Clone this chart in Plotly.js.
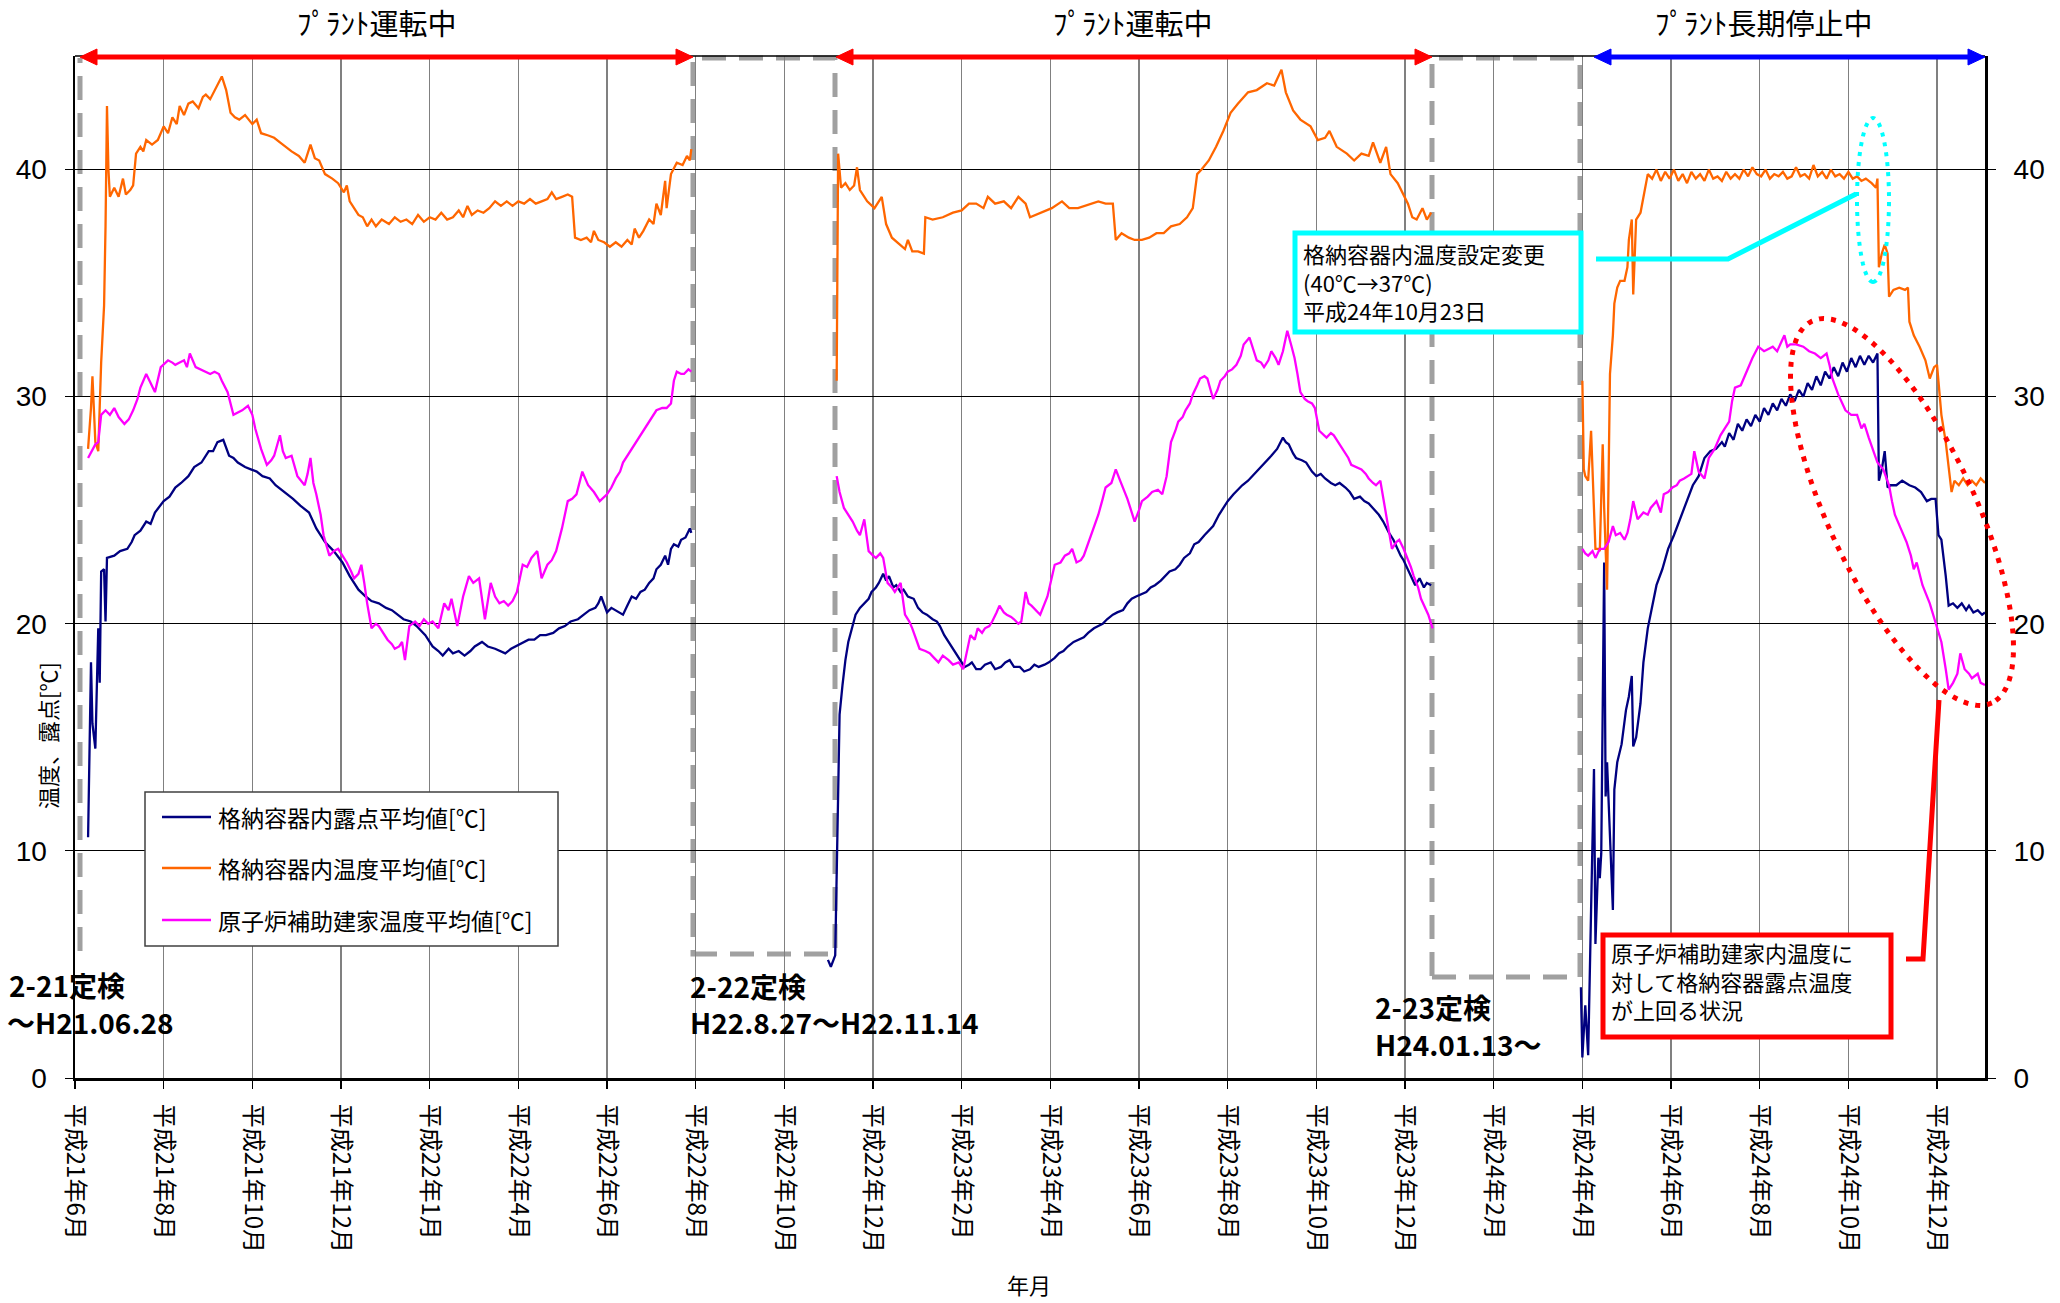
<!DOCTYPE html>
<html>
<head>
<meta charset="utf-8">
<script src="https://cdn.plot.ly/plotly-3.0.1.min.js"></script>
<style>html,body{margin:0;padding:0;background:#fff;}#chart{width:2060px;height:1303px;}</style>
</head>
<body>
<div id="chart"></div>
<script>
// ---------- data ----------
const seriesNames = ['格納容器内露点平均値[℃]', '格納容器内温度平均値[℃]', '原子炉補助建家温度平均値[℃]'];
const seriesColors = ['#000080', '#FF6600', '#FF00FF'];

const tickDates = ['2009-06-01','2009-08-01','2009-10-01','2009-12-01','2010-01-31','2010-04-02','2010-06-02','2010-08-02','2010-10-02','2010-12-02','2011-02-01','2011-04-03','2011-06-03','2011-08-03','2011-10-03','2011-12-03','2012-02-02','2012-04-03','2012-06-03','2012-08-03','2012-10-03','2012-12-03'];
const tickLabels = ['平成21年6月','平成21年8月','平成21年10月','平成21年12月','平成22年1月','平成22年4月','平成22年6月','平成22年8月','平成22年10月','平成22年12月','平成23年2月','平成23年4月','平成23年6月','平成23年8月','平成23年10月','平成23年12月','平成24年2月','平成24年4月','平成24年6月','平成24年8月','平成24年10月','平成24年12月'];
const xRange = ['2009-06-01', '2013-01-05'];
const yTicks = [0, 10, 20, 30, 40];
const gapDates = ['2010-09-20', '2012-02-20'];

// 格納容器内露点平均値
const dew1 = [['2009-06-10',10.6],['2009-06-12',18.3],['2009-06-13',15.6],['2009-06-15',14.5],['2009-06-17',19.8],['2009-06-18',17.4],['2009-06-19',22.3],['2009-06-21',22.4],['2009-06-22',20.1],['2009-06-23',22.9],['2009-06-28',23.0],['2009-07-02',23.2],['2009-07-07',23.3],['2009-07-10',23.6],['2009-07-12',23.9],['2009-07-16',24.1],['2009-07-20',24.5],['2009-07-23',24.4],['2009-07-26',24.9],['2009-08-01',25.4],['2009-08-05',25.6],['2009-08-09',26.0],['2009-08-13',26.2],['2009-08-18',26.5],['2009-08-22',26.9],['2009-08-27',27.1],['2009-09-01',27.6],['2009-09-04',27.6],['2009-09-07',28.0],['2009-09-11',28.1],['2009-09-15',27.4],['2009-09-18',27.3],['2009-09-21',27.1],['2009-09-26',26.9],['2009-09-30',26.8],['2009-10-04',26.7],['2009-10-08',26.5],['2009-10-13',26.4],['2009-10-17',26.1],['2009-10-21',25.9],['2009-10-25',25.7],['2009-10-29',25.5],['2009-11-03',25.2],['2009-11-09',24.9],['2009-11-14',24.2],['2009-11-20',23.6],['2009-11-26',23.2],['2009-12-02',22.7],['2009-12-07',22.1],['2009-12-13',21.5],['2009-12-18',21.2],['2009-12-22',21.0],['2009-12-27',20.9],['2010-01-01',20.7],['2010-01-05',20.6],['2010-01-09',20.4],['2010-01-13',20.2],['2010-01-18',20.1],['2010-01-22',19.9],['2010-01-28',19.5],['2010-02-02',19.0],['2010-02-06',18.8],['2010-02-09',18.6],['2010-02-13',18.9],['2010-02-16',18.7],['2010-02-20',18.8],['2010-02-24',18.6],['2010-02-28',18.8],['2010-03-03',19.0],['2010-03-08',19.2],['2010-03-12',19.0],['2010-03-17',18.9],['2010-03-21',18.8],['2010-03-24',18.7],['2010-03-28',18.9],['2010-03-31',19.0],['2010-04-05',19.2],['2010-04-09',19.3],['2010-04-13',19.3],['2010-04-17',19.5],['2010-04-21',19.5],['2010-04-26',19.6],['2010-04-30',19.8],['2010-05-04',19.9],['2010-05-08',20.1],['2010-05-13',20.2],['2010-05-17',20.4],['2010-05-21',20.6],['2010-05-25',20.7],['2010-05-27',20.9],['2010-05-29',21.2],['2010-06-02',20.5],['2010-06-05',20.7],['2010-06-08',20.6],['2010-06-11',20.5],['2010-06-13',20.4],['2010-06-16',20.8],['2010-06-19',21.2],['2010-06-22',21.1],['2010-06-25',21.4],['2010-06-28',21.5],['2010-07-01',21.8],['2010-07-04',22.0],['2010-07-06',22.4],['2010-07-09',22.6],['2010-07-12',23.0],['2010-07-14',22.6],['2010-07-16',23.3],['2010-07-18',23.5],['2010-07-21',23.4],['2010-07-23',23.7],['2010-07-26',23.8],['2010-07-29',24.2],['2010-07-30',24.0]];
const dew2 = [['2010-11-01',5.2],['2010-11-03',4.9],['2010-11-06',5.4],['2010-11-07',9.0],['2010-11-08',14.0],['2010-11-09',16.0],['2010-11-11',17.3],['2010-11-13',18.4],['2010-11-15',19.2],['2010-11-18',19.9],['2010-11-20',20.4],['2010-11-23',20.7],['2010-11-26',20.9],['2010-11-29',21.1],['2010-12-01',21.4],['2010-12-04',21.6],['2010-12-06',21.8],['2010-12-09',22.2],['2010-12-11',21.9],['2010-12-13',22.1],['2010-12-16',21.6],['2010-12-18',21.7],['2010-12-21',21.4],['2010-12-23',21.5],['2010-12-26',21.2],['2010-12-30',21.1],['2011-01-02',20.7],['2011-01-05',20.5],['2011-01-08',20.4],['2011-01-12',20.2],['2011-01-15',20.1],['2011-01-17',19.9],['2011-01-20',19.5],['2011-01-22',19.3],['2011-01-26',18.9],['2011-01-29',18.6],['2011-02-01',18.3],['2011-02-03',18.1],['2011-02-06',18.2],['2011-02-08',18.3],['2011-02-11',18.0],['2011-02-14',18.0],['2011-02-17',18.2],['2011-02-21',18.3],['2011-02-24',18.0],['2011-02-28',18.1],['2011-03-03',18.3],['2011-03-06',18.4],['2011-03-09',18.1],['2011-03-13',18.1],['2011-03-16',17.9],['2011-03-20',18.0],['2011-03-23',18.2],['2011-03-26',18.1],['2011-03-30',18.2],['2011-04-02',18.3],['2011-04-06',18.5],['2011-04-09',18.7],['2011-04-12',18.8],['2011-04-15',19.0],['2011-04-19',19.2],['2011-04-22',19.3],['2011-04-26',19.4],['2011-04-29',19.6],['2011-05-03',19.8],['2011-05-06',19.9],['2011-05-09',20.0],['2011-05-12',20.2],['2011-05-16',20.4],['2011-05-19',20.5],['2011-05-23',20.6],['2011-05-26',20.9],['2011-05-29',21.1],['2011-06-01',21.2],['2011-06-05',21.3],['2011-06-08',21.4],['2011-06-11',21.6],['2011-06-14',21.7],['2011-06-18',21.9],['2011-06-21',22.1],['2011-06-24',22.3],['2011-06-28',22.4],['2011-07-01',22.6],['2011-07-04',22.9],['2011-07-08',23.1],['2011-07-11',23.5],['2011-07-14',23.6],['2011-07-18',23.9],['2011-07-21',24.1],['2011-07-24',24.3],['2011-07-28',24.8],['2011-07-31',25.1],['2011-08-03',25.4],['2011-08-07',25.7],['2011-08-10',25.9],['2011-08-13',26.1],['2011-08-17',26.3],['2011-08-20',26.5],['2011-08-24',26.8],['2011-08-27',27.0],['2011-08-30',27.2],['2011-09-02',27.4],['2011-09-06',27.7],['2011-09-10',28.2],['2011-09-12',28.0],['2011-09-14',27.9],['2011-09-17',27.5],['2011-09-19',27.3],['2011-09-23',27.2],['2011-09-26',27.1],['2011-09-30',26.7],['2011-10-03',26.5],['2011-10-06',26.6],['2011-10-09',26.4],['2011-10-13',26.2],['2011-10-16',26.1],['2011-10-19',26.2],['2011-10-23',26.0],['2011-10-26',25.8],['2011-10-29',25.5],['2011-11-02',25.6],['2011-11-05',25.4],['2011-11-08',25.3],['2011-11-11',25.1],['2011-11-15',24.8],['2011-11-18',24.5],['2011-11-22',24.0],['2011-11-25',23.7],['2011-11-30',23.0],['2011-12-02',22.8],['2011-12-05',22.4],['2011-12-08',22.0],['2011-12-10',21.7],['2011-12-13',22.0],['2011-12-16',21.6],['2011-12-18',21.8],['2011-12-21',21.7]];
const dew3 = [['2012-04-02',4.0],['2012-04-03',0.9],['2012-04-05',3.2],['2012-04-07',1.0],['2012-04-09',7.4],['2012-04-10',10.9],['2012-04-11',13.6],['2012-04-12',5.9],['2012-04-14',9.7],['2012-04-15',8.8],['2012-04-16',9.9],['2012-04-18',22.7],['2012-04-19',12.4],['2012-04-20',13.9],['2012-04-22',10.6],['2012-04-24',7.4],['2012-04-25',12.7],['2012-04-27',13.9],['2012-04-30',14.7],['2012-05-03',16.2],['2012-05-05',16.8],['2012-05-07',17.7],['2012-05-08',14.6],['2012-05-10',15.0],['2012-05-13',16.5],['2012-05-15',18.3],['2012-05-18',19.8],['2012-05-21',20.8],['2012-05-24',21.7],['2012-05-28',22.4],['2012-06-01',23.3],['2012-06-05',23.9],['2012-06-09',24.6],['2012-06-14',25.4],['2012-06-18',26.1],['2012-06-22',26.5],['2012-06-26',27.3],['2012-06-30',27.6],['2012-07-04',27.7],['2012-07-08',28.0],['2012-07-10',27.8],['2012-07-13',28.4],['2012-07-16',28.1],['2012-07-19',28.8],['2012-07-22',28.5],['2012-07-25',29.0],['2012-07-28',28.7],['2012-07-31',29.2],['2012-08-03',28.9],['2012-08-06',29.5],['2012-08-09',29.2],['2012-08-12',29.7],['2012-08-15',29.4],['2012-08-18',29.9],['2012-08-21',29.6],['2012-08-24',30.1],['2012-08-27',29.8],['2012-08-30',30.3],['2012-09-02',30.0],['2012-09-05',30.6],['2012-09-08',30.3],['2012-09-11',30.9],['2012-09-14',30.5],['2012-09-17',31.1],['2012-09-20',30.8],['2012-09-23',31.3],['2012-09-26',30.9],['2012-09-29',31.5],['2012-10-02',31.1],['2012-10-05',31.7],['2012-10-08',31.3],['2012-10-11',31.8],['2012-10-14',31.4],['2012-10-17',31.8],['2012-10-20',31.5],['2012-10-23',31.9],['2012-10-24',26.3],['2012-10-26',26.8],['2012-10-28',27.6],['2012-10-30',26.0],['2012-11-01',26.1],['2012-11-05',26.1],['2012-11-09',26.3],['2012-11-14',26.1],['2012-11-18',26.0],['2012-11-22',25.8],['2012-11-26',25.4],['2012-11-29',25.5],['2012-12-02',25.5],['2012-12-04',23.9],['2012-12-06',23.7],['2012-12-09',22.1],['2012-12-11',20.8],['2012-12-14',20.9],['2012-12-17',20.7],['2012-12-20',20.9],['2012-12-23',20.6],['2012-12-25',20.8],['2012-12-28',20.5],['2012-12-31',20.6],['2013-01-03',20.4],['2013-01-05',20.5]];

// 格納容器内温度平均値
const temp1 = [['2009-06-10',27.7],['2009-06-12',29.5],['2009-06-13',30.9],['2009-06-14',29.0],['2009-06-15',28.0],['2009-06-17',27.6],['2009-06-19',31.5],['2009-06-21',34.0],['2009-06-22',37.5],['2009-06-23',42.8],['2009-06-24',40.0],['2009-06-25',38.8],['2009-06-28',39.2],['2009-07-01',38.8],['2009-07-04',39.6],['2009-07-06',38.9],['2009-07-09',39.1],['2009-07-11',39.3],['2009-07-13',40.7],['2009-07-16',41.0],['2009-07-18',40.8],['2009-07-20',41.3],['2009-07-24',41.1],['2009-07-28',41.3],['2009-08-01',41.9],['2009-08-04',41.6],['2009-08-07',42.3],['2009-08-10',42.0],['2009-08-12',42.8],['2009-08-15',42.4],['2009-08-18',42.9],['2009-08-21',43.0],['2009-08-25',42.7],['2009-08-28',43.2],['2009-08-30',43.3],['2009-09-02',43.1],['2009-09-06',43.6],['2009-09-10',44.1],['2009-09-13',43.5],['2009-09-16',42.5],['2009-09-19',42.3],['2009-09-22',42.2],['2009-09-26',42.4],['2009-10-01',42.0],['2009-10-04',42.2],['2009-10-07',41.6],['2009-10-12',41.5],['2009-10-16',41.4],['2009-10-20',41.2],['2009-10-24',41.0],['2009-10-28',40.8],['2009-11-02',40.6],['2009-11-06',40.3],['2009-11-10',41.1],['2009-11-13',40.5],['2009-11-16',40.4],['2009-11-20',39.8],['2009-11-25',39.6],['2009-11-29',39.4],['2009-12-03',39.0],['2009-12-05',39.3],['2009-12-07',38.6],['2009-12-10',38.3],['2009-12-13',38.0],['2009-12-16',37.9],['2009-12-19',37.5],['2009-12-22',37.8],['2009-12-25',37.5],['2009-12-29',37.8],['2010-01-03',37.6],['2010-01-07',37.9],['2010-01-11',37.7],['2010-01-15',37.8],['2010-01-19',37.6],['2010-01-23',38.0],['2010-01-27',37.7],['2010-01-31',37.9],['2010-02-04',37.8],['2010-02-08',38.1],['2010-02-12',37.8],['2010-02-16',37.9],['2010-02-20',38.2],['2010-02-23',37.9],['2010-02-26',38.4],['2010-03-01',38.0],['2010-03-05',38.2],['2010-03-09',38.1],['2010-03-13',38.3],['2010-03-17',38.6],['2010-03-21',38.4],['2010-03-25',38.6],['2010-03-29',38.4],['2010-04-02',38.6],['2010-04-06',38.5],['2010-04-10',38.7],['2010-04-14',38.5],['2010-04-18',38.6],['2010-04-22',38.7],['2010-04-25',39.0],['2010-04-28',38.7],['2010-05-02',38.8],['2010-05-06',38.9],['2010-05-09',38.8],['2010-05-11',37.0],['2010-05-15',36.9],['2010-05-19',37.0],['2010-05-22',36.8],['2010-05-24',37.3],['2010-05-27',36.9],['2010-05-31',36.8],['2010-06-04',36.6],['2010-06-08',36.8],['2010-06-12',36.6],['2010-06-16',36.9],['2010-06-19',36.7],['2010-06-21',37.4],['2010-06-24',37.0],['2010-06-27',37.3],['2010-07-01',37.8],['2010-07-04',37.6],['2010-07-06',38.5],['2010-07-09',38.0],['2010-07-12',39.5],['2010-07-13',38.3],['2010-07-16',39.8],['2010-07-20',40.3],['2010-07-24',40.2],['2010-07-27',40.6],['2010-07-29',40.4],['2010-07-30',40.9]];
const temp2 = [['2010-11-07',30.7],['2010-11-08',40.7],['2010-11-10',39.2],['2010-11-13',39.4],['2010-11-16',39.1],['2010-11-19',39.3],['2010-11-21',40.1],['2010-11-23',39.1],['2010-11-28',38.6],['2010-12-03',38.3],['2010-12-08',38.8],['2010-12-11',37.6],['2010-12-15',37.0],['2010-12-20',36.7],['2010-12-24',36.5],['2010-12-26',36.9],['2010-12-29',36.4],['2011-01-02',36.4],['2011-01-06',36.3],['2011-01-07',37.9],['2011-01-12',37.8],['2011-01-19',37.9],['2011-01-26',38.1],['2011-02-01',38.2],['2011-02-06',38.5],['2011-02-11',38.5],['2011-02-16',38.3],['2011-02-19',38.8],['2011-02-24',38.5],['2011-03-02',38.6],['2011-03-07',38.3],['2011-03-12',38.8],['2011-03-17',38.5],['2011-03-20',37.9],['2011-03-27',38.1],['2011-04-04',38.3],['2011-04-11',38.6],['2011-04-16',38.3],['2011-04-22',38.3],['2011-05-01',38.5],['2011-05-06',38.6],['2011-05-11',38.5],['2011-05-16',38.5],['2011-05-18',36.9],['2011-05-22',37.2],['2011-05-27',37.0],['2011-05-31',36.9],['2011-06-05',36.9],['2011-06-10',37.0],['2011-06-15',37.2],['2011-06-20',37.2],['2011-06-25',37.5],['2011-07-01',37.6],['2011-07-06',37.9],['2011-07-10',38.3],['2011-07-13',39.8],['2011-07-16',40.0],['2011-07-21',40.4],['2011-07-26',41.0],['2011-07-31',41.7],['2011-08-05',42.5],['2011-08-10',42.9],['2011-08-17',43.4],['2011-08-23',43.5],['2011-08-30',43.8],['2011-09-04',43.7],['2011-09-09',44.4],['2011-09-12',43.4],['2011-09-17',42.6],['2011-09-22',42.2],['2011-09-29',41.9],['2011-10-04',41.3],['2011-10-09',41.4],['2011-10-12',41.7],['2011-10-17',41.0],['2011-10-24',40.7],['2011-10-29',40.4],['2011-11-03',40.7],['2011-11-08',40.6],['2011-11-11',41.2],['2011-11-16',40.3],['2011-11-20',41.0],['2011-11-23',39.8],['2011-11-28',39.4],['2011-12-02',38.9],['2011-12-05',38.5],['2011-12-08',37.9],['2011-12-11',37.8],['2011-12-15',38.3],['2011-12-18',37.8],['2011-12-21',38.1]];
const temp3 = [['2012-04-03',30.7],['2012-04-04',26.8],['2012-04-05',26.5],['2012-04-07',26.3],['2012-04-09',28.5],['2012-04-10',26.8],['2012-04-12',23.3],['2012-04-14',23.3],['2012-04-15',23.2],['2012-04-17',27.9],['2012-04-18',25.1],['2012-04-20',21.5],['2012-04-22',31.0],['2012-04-24',32.7],['2012-04-25',34.1],['2012-04-27',34.8],['2012-04-29',35.1],['2012-05-02',35.1],['2012-05-04',35.7],['2012-05-05',36.9],['2012-05-07',37.8],['2012-05-08',34.5],['2012-05-10',37.8],['2012-05-13',38.1],['2012-05-15',38.8],['2012-05-18',39.8],['2012-05-21',39.6],['2012-05-24',40.0],['2012-05-27',39.5],['2012-05-30',39.9],['2012-06-02',39.6],['2012-06-05',40.0],['2012-06-08',39.5],['2012-06-11',39.8],['2012-06-14',39.4],['2012-06-17',39.9],['2012-06-20',39.6],['2012-06-23',39.8],['2012-06-26',39.5],['2012-06-29',40.0],['2012-07-02',39.6],['2012-07-05',39.7],['2012-07-08',39.5],['2012-07-11',39.9],['2012-07-14',39.6],['2012-07-17',39.8],['2012-07-20',39.6],['2012-07-23',40.0],['2012-07-26',39.7],['2012-07-29',40.1],['2012-08-01',39.8],['2012-08-04',39.7],['2012-08-07',40.0],['2012-08-10',39.6],['2012-08-13',39.8],['2012-08-16',39.7],['2012-08-19',39.9],['2012-08-22',39.6],['2012-08-25',39.7],['2012-08-28',40.1],['2012-08-31',39.7],['2012-09-03',39.8],['2012-09-06',39.6],['2012-09-09',40.2],['2012-09-12',39.7],['2012-09-15',39.9],['2012-09-18',39.6],['2012-09-21',40.0],['2012-09-24',39.7],['2012-09-27',39.8],['2012-09-30',39.6],['2012-10-03',39.9],['2012-10-06',39.6],['2012-10-09',39.7],['2012-10-12',39.5],['2012-10-15',39.6],['2012-10-19',39.4],['2012-10-22',39.2],['2012-10-23',39.6],['2012-10-24',35.7],['2012-10-26',36.3],['2012-10-28',36.7],['2012-10-30',36.3],['2012-10-31',34.4],['2012-11-03',34.7],['2012-11-07',34.8],['2012-11-11',34.7],['2012-11-13',34.8],['2012-11-14',33.3],['2012-11-17',32.7],['2012-11-21',32.2],['2012-11-25',31.6],['2012-11-28',30.8],['2012-12-01',31.3],['2012-12-03',31.4],['2012-12-05',30.1],['2012-12-06',29.2],['2012-12-09',28.0],['2012-12-11',26.8],['2012-12-13',25.8],['2012-12-15',26.3],['2012-12-18',26.1],['2012-12-21',26.4],['2012-12-24',26.1],['2012-12-27',26.3],['2012-12-30',26.1],['2013-01-02',26.4],['2013-01-05',26.2]];

// 原子炉補助建家温度平均値
const aux1 = [['2009-06-10',27.3],['2009-06-13',27.7],['2009-06-15',27.9],['2009-06-17',28.0],['2009-06-19',29.2],['2009-06-22',29.4],['2009-06-25',29.2],['2009-06-28',29.5],['2009-07-01',29.1],['2009-07-05',28.8],['2009-07-08',29.0],['2009-07-11',29.4],['2009-07-14',29.9],['2009-07-16',30.4],['2009-07-20',31.0],['2009-07-23',30.6],['2009-07-26',30.2],['2009-07-30',31.3],['2009-08-04',31.6],['2009-08-07',31.5],['2009-08-09',31.4],['2009-08-12',31.5],['2009-08-15',31.6],['2009-08-17',31.3],['2009-08-19',31.9],['2009-08-23',31.3],['2009-08-26',31.2],['2009-08-29',31.1],['2009-09-02',31.0],['2009-09-05',31.1],['2009-09-08',31.0],['2009-09-10',30.7],['2009-09-14',30.2],['2009-09-18',29.2],['2009-09-21',29.3],['2009-09-24',29.4],['2009-09-28',29.6],['2009-10-01',29.2],['2009-10-03',28.6],['2009-10-07',27.7],['2009-10-11',27.0],['2009-10-14',27.2],['2009-10-16',27.4],['2009-10-20',28.3],['2009-10-22',27.6],['2009-10-24',27.3],['2009-10-28',27.4],['2009-11-01',26.5],['2009-11-06',26.1],['2009-11-08',26.6],['2009-11-10',27.3],['2009-11-12',26.2],['2009-11-14',25.7],['2009-11-17',24.8],['2009-11-19',23.9],['2009-11-23',23.0],['2009-11-26',23.2],['2009-11-29',23.3],['2009-12-02',23.0],['2009-12-05',22.7],['2009-12-08',22.3],['2009-12-10',22.0],['2009-12-13',22.2],['2009-12-15',22.6],['2009-12-17',21.8],['2009-12-19',20.9],['2009-12-22',19.8],['2009-12-25',20.0],['2009-12-27',19.9],['2009-12-30',19.6],['2010-01-02',19.3],['2010-01-05',19.1],['2010-01-07',18.9],['2010-01-10',19.0],['2010-01-12',19.2],['2010-01-14',18.4],['2010-01-17',19.9],['2010-01-21',20.1],['2010-01-24',19.9],['2010-01-27',20.2],['2010-01-30',20.0],['2010-02-02',20.1],['2010-02-06',19.8],['2010-02-10',20.9],['2010-02-13',20.6],['2010-02-15',21.1],['2010-02-19',19.9],['2010-02-23',21.2],['2010-02-27',22.1],['2010-03-02',21.8],['2010-03-06',22.0],['2010-03-10',20.2],['2010-03-14',21.8],['2010-03-17',21.2],['2010-03-20',20.9],['2010-03-23',21.0],['2010-03-26',20.8],['2010-03-29',21.0],['2010-04-01',21.4],['2010-04-05',22.6],['2010-04-08',22.5],['2010-04-11',22.9],['2010-04-15',23.2],['2010-04-18',22.0],['2010-04-22',22.6],['2010-04-25',22.8],['2010-04-28',23.2],['2010-05-02',24.2],['2010-05-06',25.4],['2010-05-09',25.5],['2010-05-12',25.7],['2010-05-16',26.7],['2010-05-20',26.1],['2010-05-24',25.8],['2010-05-28',25.4],['2010-06-02',25.7],['2010-06-05',26.0],['2010-06-08',26.4],['2010-06-11',26.7],['2010-06-13',27.1],['2010-06-16',27.4],['2010-06-19',27.7],['2010-06-22',28.0],['2010-06-25',28.3],['2010-06-28',28.6],['2010-07-01',28.9],['2010-07-04',29.2],['2010-07-06',29.4],['2010-07-10',29.5],['2010-07-13',29.5],['2010-07-16',29.7],['2010-07-18',30.7],['2010-07-20',31.1],['2010-07-23',31.0],['2010-07-25',31.0],['2010-07-28',31.2],['2010-07-30',31.1]];
const aux2 = [['2010-11-07',26.5],['2010-11-09',25.8],['2010-11-12',25.1],['2010-11-15',24.8],['2010-11-18',24.5],['2010-11-21',24.1],['2010-11-23',23.9],['2010-11-26',24.6],['2010-11-29',23.2],['2010-12-02',23.0],['2010-12-04',22.9],['2010-12-07',23.1],['2010-12-09',22.9],['2010-12-12',21.8],['2010-12-15',21.6],['2010-12-17',21.4],['2010-12-21',21.8],['2010-12-24',20.4],['2010-12-27',20.1],['2010-12-29',19.8],['2011-01-01',19.3],['2011-01-03',18.9],['2011-01-07',18.8],['2011-01-10',18.7],['2011-01-13',18.5],['2011-01-16',18.3],['2011-01-19',18.6],['2011-01-23',18.4],['2011-01-26',18.2],['2011-01-30',18.3],['2011-02-02',18.0],['2011-02-05',18.9],['2011-02-07',19.5],['2011-02-10',19.3],['2011-02-12',19.8],['2011-02-15',19.6],['2011-02-17',19.8],['2011-02-20',19.9],['2011-02-22',20.1],['2011-02-25',20.5],['2011-02-27',20.8],['2011-03-02',20.5],['2011-03-04',20.4],['2011-03-07',20.3],['2011-03-09',20.2],['2011-03-12',20.0],['2011-03-14',20.1],['2011-03-17',21.4],['2011-03-19',20.9],['2011-03-21',20.8],['2011-03-24',20.6],['2011-03-27',20.4],['2011-04-01',21.2],['2011-04-04',22.0],['2011-04-06',22.6],['2011-04-10',22.7],['2011-04-13',23.0],['2011-04-16',23.1],['2011-04-18',23.3],['2011-04-21',22.7],['2011-04-24',22.8],['2011-04-26',23.0],['2011-05-01',23.9],['2011-05-04',24.4],['2011-05-06',24.8],['2011-05-09',25.5],['2011-05-11',26.0],['2011-05-15',26.2],['2011-05-18',26.8],['2011-05-21',26.3],['2011-05-23',26.0],['2011-05-26',25.5],['2011-05-28',25.1],['2011-05-31',24.5],['2011-06-03',25.0],['2011-06-05',25.4],['2011-06-09',25.6],['2011-06-12',25.8],['2011-06-16',25.9],['2011-06-19',25.7],['2011-06-22',26.5],['2011-06-25',28.0],['2011-06-28',28.5],['2011-06-30',28.9],['2011-07-03',29.1],['2011-07-05',29.4],['2011-07-08',29.7],['2011-07-10',30.1],['2011-07-13',30.5],['2011-07-15',30.8],['2011-07-18',30.9],['2011-07-20',30.8],['2011-07-24',29.9],['2011-07-27',30.3],['2011-07-29',30.7],['2011-08-01',30.9],['2011-08-03',31.1],['2011-08-06',31.2],['2011-08-09',31.4],['2011-08-12',31.8],['2011-08-14',32.3],['2011-08-18',32.6],['2011-08-21',32.0],['2011-08-23',31.6],['2011-08-26',31.5],['2011-08-28',31.3],['2011-08-31',31.6],['2011-09-02',32.0],['2011-09-05',31.7],['2011-09-07',31.4],['2011-09-10',32.0],['2011-09-13',32.9],['2011-09-16',32.2],['2011-09-18',31.7],['2011-09-20',31.0],['2011-09-22',30.2],['2011-09-25',29.9],['2011-09-27',29.8],['2011-09-30',29.7],['2011-10-02',29.5],['2011-10-05',28.5],['2011-10-08',28.3],['2011-10-10',28.2],['2011-10-13',28.4],['2011-10-15',28.3],['2011-10-19',27.9],['2011-10-22',27.6],['2011-10-25',27.3],['2011-10-27',27.0],['2011-10-31',26.9],['2011-11-03',26.8],['2011-11-06',26.6],['2011-11-08',26.4],['2011-11-11',26.2],['2011-11-13',26.1],['2011-11-16',26.3],['2011-11-19',25.1],['2011-11-22',24.0],['2011-11-24',23.3],['2011-11-27',23.6],['2011-11-29',23.7],['2011-12-02',23.3],['2011-12-04',23.0],['2011-12-07',22.5],['2011-12-09',22.1],['2011-12-12',21.6],['2011-12-14',21.1],['2011-12-17',20.7],['2011-12-19',20.4],['2011-12-21',20.0],['2011-12-22',19.8]];
const aux3 = [['2012-04-03',23.3],['2012-04-05',23.1],['2012-04-07',23.0],['2012-04-10',23.2],['2012-04-12',22.9],['2012-04-15',23.3],['2012-04-18',23.3],['2012-04-21',23.6],['2012-04-24',24.3],['2012-04-26',23.9],['2012-04-29',24.0],['2012-05-02',23.7],['2012-05-04',24.0],['2012-05-06',24.6],['2012-05-08',25.4],['2012-05-11',24.6],['2012-05-15',24.9],['2012-05-18',24.8],['2012-05-20',25.1],['2012-05-24',25.4],['2012-05-27',24.9],['2012-05-29',25.7],['2012-06-01',25.8],['2012-06-04',26.0],['2012-06-07',26.1],['2012-06-09',26.3],['2012-06-12',26.4],['2012-06-15',26.5],['2012-06-17',26.6],['2012-06-19',27.6],['2012-06-22',26.7],['2012-06-26',26.4],['2012-06-29',27.3],['2012-07-03',27.7],['2012-07-07',28.3],['2012-07-10',28.6],['2012-07-13',28.9],['2012-07-15',29.8],['2012-07-17',30.4],['2012-07-21',30.5],['2012-07-25',31.1],['2012-07-29',31.7],['2012-08-02',32.2],['2012-08-06',32.0],['2012-08-09',32.1],['2012-08-12',32.2],['2012-08-15',32.0],['2012-08-17',32.3],['2012-08-20',32.7],['2012-08-22',32.2],['2012-08-24',32.3],['2012-08-28',32.3],['2012-09-02',32.2],['2012-09-06',32.0],['2012-09-10',31.9],['2012-09-14',31.7],['2012-09-18',31.9],['2012-09-20',31.4],['2012-09-22',30.8],['2012-09-26',30.1],['2012-10-01',29.4],['2012-10-05',29.2],['2012-10-09',29.2],['2012-10-12',28.6],['2012-10-14',28.8],['2012-10-17',28.2],['2012-10-20',27.6],['2012-10-23',27.1],['2012-10-27',26.8],['2012-10-31',26.1],['2012-11-02',25.4],['2012-11-04',24.8],['2012-11-08',24.2],['2012-11-12',23.6],['2012-11-15',23.0],['2012-11-17',22.4],['2012-11-19',22.7],['2012-11-23',21.7],['2012-11-28',20.9],['2012-12-02',20.1],['2012-12-06',19.2],['2012-12-09',18.0],['2012-12-11',17.1],['2012-12-14',17.4],['2012-12-17',17.8],['2012-12-19',18.7],['2012-12-22',18.0],['2012-12-25',17.8],['2012-12-27',17.6],['2012-12-31',17.8],['2013-01-02',17.4],['2013-01-05',17.3]];

// ---------- helpers ----------
function joinSegs(segs) {
  const x = [], y = [];
  segs.forEach((s, i) => {
    if (i > 0) { x.push(gapDates[i - 1]); y.push(null); }
    s.forEach(p => { x.push(p[0]); y.push(p[1]); });
  });
  return { x, y };
}
const L = 75, R = 1985, T = 56, B = 1078;
const px = v => (v - L) / (R - L);
const py = v => (B - v) / (B - T);
const JP = '"Noto Sans CJK JP", "Noto Sans", sans-serif';

const dew = joinSegs([dew1, dew2, dew3]);
const tmp = joinSegs([temp1, temp2, temp3]);
const aux = joinSegs([aux1, aux2, aux3]);

const traces = [
  { x: dew.x, y: dew.y, name: seriesNames[0], type: 'scatter', mode: 'lines', line: { color: seriesColors[0], width: 2.3 }, connectgaps: false, showlegend: false },
  { x: tmp.x, y: tmp.y, name: seriesNames[1], type: 'scatter', mode: 'lines', line: { color: seriesColors[1], width: 2.3 }, connectgaps: false, showlegend: false },
  { x: aux.x, y: aux.y, name: seriesNames[2], type: 'scatter', mode: 'lines', line: { color: seriesColors[2], width: 2.3 }, connectgaps: false, showlegend: false },
  { x: [], y: [], yaxis: 'y2', type: 'scatter', mode: 'lines', showlegend: false, hoverinfo: 'skip' }
];

// ---------- decorations ----------
const shapes = [];
const GRAY = '#A0A0A0';
shapes.push({ type: 'rect', xref: 'paper', yref: 'paper', x0: px(76), x1: px(1000), y0: py(1051), y1: py(964), fillcolor: 'white', line: { width: 0 }, layer: 'between' });
shapes.push({ type: 'rect', xref: 'paper', yref: 'paper', x0: px(1365), x1: px(1550), y0: py(1072), y1: py(985), fillcolor: 'white', line: { width: 0 }, layer: 'between' });
shapes.push({ type: 'rect', xref: 'paper', yref: 'paper', x0: px(693), x1: px(835), y0: py(954), y1: py(58), fillcolor: 'white', line: { color: GRAY, width: 5, dash: '24px,13px' }, layer: 'between' });
shapes.push({ type: 'rect', xref: 'paper', yref: 'paper', x0: px(1432), x1: px(1580), y0: py(977), y1: py(58), fillcolor: 'white', line: { color: GRAY, width: 5, dash: '24px,13px' }, layer: 'between' });
shapes.push({ type: 'line', xref: 'paper', yref: 'paper', x0: px(80), x1: px(80), y0: py(951), y1: py(58), line: { color: GRAY, width: 5, dash: '24px,13px' }, layer: 'between' });
shapes.push({ type: 'line', xref: 'paper', yref: 'paper', x0: 0, x1: 1, y0: 1, y1: 1, line: { color: 'black', width: 1.5 } });

function arrow(x1, x2, y, color) {
  const h = 17, w = 8;
  shapes.push({ type: 'line', xref: 'paper', yref: 'paper', x0: px(x1 + 10), x1: px(x2 - 10), y0: py(y), y1: py(y), line: { color: color, width: 5 } });
  shapes.push({ type: 'path', xref: 'paper', yref: 'paper', path: `M${px(x1)},${py(y)} L${px(x1 + h)},${py(y - w)} L${px(x1 + h)},${py(y + w)} Z`, fillcolor: color, line: { color: color, width: 1 } });
  shapes.push({ type: 'path', xref: 'paper', yref: 'paper', path: `M${px(x2)},${py(y)} L${px(x2 - h)},${py(y - w)} L${px(x2 - h)},${py(y + w)} Z`, fillcolor: color, line: { color: color, width: 1 } });
}
arrow(80, 693, 57, '#FF0000');
arrow(836, 1432, 57, '#FF0000');
arrow(1594, 1985, 57, '#0000FF');

shapes.push({ type: 'rect', xref: 'paper', yref: 'paper', x0: px(145), x1: px(558), y0: py(946), y1: py(792), fillcolor: 'white', line: { color: '#404040', width: 1.5 } });
const legendRows = [817, 868, 920];
legendRows.forEach((yy, i) => {
  shapes.push({ type: 'line', xref: 'paper', yref: 'paper', x0: px(162), x1: px(211), y0: py(yy), y1: py(yy), line: { color: seriesColors[i], width: 2.5 } });
});

shapes.push({ type: 'rect', xref: 'paper', yref: 'paper', x0: px(1295), x1: px(1581), y0: py(332), y1: py(233), fillcolor: 'white', line: { color: '#00FFFF', width: 5 } });
shapes.push({ type: 'rect', xref: 'paper', yref: 'paper', x0: px(1603), x1: px(1891), y0: py(1037), y1: py(935), fillcolor: 'white', line: { color: '#FF0000', width: 5 } });
shapes.push({ type: 'path', xref: 'paper', yref: 'paper', path: `M${px(1596)},${py(259)} L${px(1728)},${py(259)} L${px(1856)},${py(194)}`, line: { color: '#00FFFF', width: 5 } });
shapes.push({ type: 'path', xref: 'paper', yref: 'paper', path: `M${px(1906)},${py(959)} L${px(1923)},${py(959)} L${px(1939)},${py(700)}`, line: { color: '#FF0000', width: 5 } });

function ellipsePath(cx, cy, a, b, angDeg) {
  const th = angDeg * Math.PI / 180, n = 120;
  let d = '';
  for (let i = 0; i <= n; i++) {
    const t = 2 * Math.PI * i / n;
    const x = cx + a * Math.cos(t) * Math.cos(th) - b * Math.sin(t) * Math.sin(th);
    const y = cy + a * Math.cos(t) * Math.sin(th) + b * Math.sin(t) * Math.cos(th);
    d += (i ? 'L' : 'M') + px(x).toFixed(6) + ',' + py(y).toFixed(6);
  }
  return d + 'Z';
}
shapes.push({ type: 'path', xref: 'paper', yref: 'paper', path: ellipsePath(1873, 200, 82, 16, 90), line: { color: '#00FFFF', width: 4, dash: '4px,6px' } });
shapes.push({ type: 'path', xref: 'paper', yref: 'paper', path: ellipsePath(1902, 512, 211, 73, 64.8), line: { color: '#FF0000', width: 5, dash: '5px,7px' } });

// ---------- text ----------
const annotations = [];
function txt(text, x, y, opts) {
  annotations.push(Object.assign({ text: text, xref: 'paper', yref: 'paper', x: px(x), y: py(y), showarrow: false, xanchor: 'left', yanchor: 'middle', align: 'left', font: { family: JP, size: 23, color: 'black' } }, opts || {}));
}
const titleFont = { family: JP, size: 29, color: 'black' };
txt('ﾌﾟﾗﾝﾄ運転中', 377, 22, { xanchor: 'center', font: titleFont });
txt('ﾌﾟﾗﾝﾄ運転中', 1133, 22, { xanchor: 'center', font: titleFont });
txt('ﾌﾟﾗﾝﾄ長期停止中', 1764, 22, { xanchor: 'center', font: titleFont });

const boldFont = { family: JP, size: 28, color: 'black' };
txt('<b>2-21定検</b>', 7, 985, { font: boldFont });
txt('<b>～H21.06.28</b>', 5, 1022, { font: boldFont });
txt('<b>2-22定検</b>', 688, 986, { font: boldFont });
txt('<b>H22.8.27～H22.11.14</b>', 688, 1022, { font: boldFont });
txt('<b>2-23定検</b>', 1373, 1007, { font: boldFont });
txt('<b>H24.01.13～</b>', 1373, 1044, { font: boldFont });

const boxFont = { family: JP, size: 22, color: 'black' };
txt('格納容器内温度設定変更<br>(40℃→37℃)<br>平成24年10月23日', 1301, 281, { font: boxFont });
txt('原子炉補助建家内温度に<br>対して格納容器露点温度<br>が上回る状況', 1609, 980, { font: boxFont });

legendRows.forEach((yy, i) => txt(seriesNames[i], 216, yy));

txt('年月', 1029, 1284, { xanchor: 'center', font: { family: JP, size: 22, color: 'black' } });
txt('温度、露点[℃]', 47, 736, { xanchor: 'center', textangle: -90, font: { family: JP, size: 22, color: 'black' } });

const tickFontY = { family: '"Liberation Sans", Arial, sans-serif', size: 28, color: 'black' };

const layout = {
  width: 2060, height: 1303, autosize: false,
  margin: { l: L, r: 2060 - R, t: T, b: 1303 - B, pad: 0 },
  paper_bgcolor: 'white', plot_bgcolor: 'white',
  font: { family: JP, color: 'black' },
  showlegend: false,
  xaxis: {
    type: 'date', range: xRange, tickmode: 'array', tickvals: tickDates, ticktext: tickLabels,
    tickangle: 90, tickfont: { family: JP, size: 24, color: 'black' },
    showgrid: true, gridcolor: '#808080', gridwidth: 1.3,
    showline: true, linecolor: 'black', linewidth: 3,
    ticks: 'outside', ticklen: 8, tickcolor: 'black', tickwidth: 1.3,
    ticklabelstandoff: 10, zeroline: false, automargin: false, fixedrange: true
  },
  yaxis: {
    range: [0, 45], tickmode: 'array', tickvals: yTicks, tickfont: tickFontY,
    showgrid: true, gridcolor: 'black', gridwidth: 1,
    showline: true, linecolor: 'black', linewidth: 2.5,
    ticks: 'outside', ticklen: 8, tickcolor: 'black', tickwidth: 1,
    ticklabelstandoff: 12, zeroline: false, automargin: false, fixedrange: true
  },
  yaxis2: {
    overlaying: 'y', side: 'right', range: [0, 45], tickmode: 'array', tickvals: yTicks, tickfont: tickFontY,
    showgrid: false, showline: true, linecolor: 'black', linewidth: 3,
    ticks: 'outside', ticklen: 8, tickcolor: 'black', tickwidth: 1,
    ticklabelstandoff: 12, zeroline: false, automargin: false, fixedrange: true
  },
  shapes: shapes,
  annotations: annotations
};

Plotly.newPlot('chart', traces, layout, { staticPlot: true, displayModeBar: false });
</script>
</body>
</html>
